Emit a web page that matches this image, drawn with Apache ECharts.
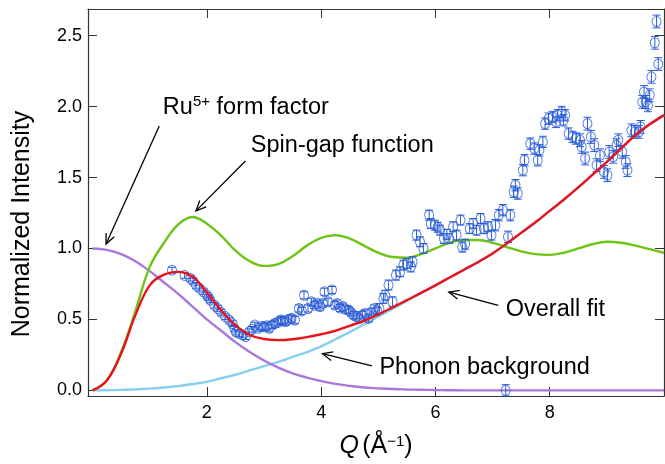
<!DOCTYPE html>
<html>
<head>
<meta charset="utf-8">
<script src="https://cdn.jsdelivr.net/npm/echarts@6/dist/echarts.min.js"></script>
<style>
  html, body { margin: 0; padding: 0; background: #fff; }
  #chart { width: 665px; height: 464px; }
</style>
</head>
<body>
<div id="chart"></div>
<script>
// measured points (Q in 1/Angstrom, normalized intensity)
var qData = [1.39, 1.61, 1.71, 1.76, 1.81, 1.87, 1.94, 2.00, 2.03, 2.06, 2.13, 2.19, 2.25, 2.32, 2.39, 2.45, 2.48, 2.51, 2.57, 2.63,
  2.68, 2.74, 2.79, 2.84, 2.90, 2.95, 3.00, 3.05, 3.09, 3.14, 3.19, 3.24, 3.29, 3.33, 3.38, 3.43, 3.48, 3.54, 3.61, 3.66,
  3.70, 3.77, 3.83, 3.88, 3.93, 3.98, 4.03, 4.06, 4.12, 4.19, 4.24, 4.28, 4.33, 4.38, 4.43, 4.48, 4.52, 4.57, 4.62, 4.67,
  4.72, 4.77, 4.83, 4.88, 4.93, 4.98, 5.02, 5.09, 5.12, 5.18, 5.25, 5.31, 5.38, 5.44, 5.50, 5.57, 5.60, 5.67, 5.73, 5.79,
  5.89, 5.92, 5.99, 6.04, 6.08, 6.15, 6.20, 6.24, 6.31, 6.37, 6.44, 6.47, 6.52, 6.60, 6.66, 6.72, 6.79, 6.85, 6.92, 6.98,
  7.05, 7.11, 7.18, 7.23, 7.27, 7.31, 7.37, 7.40, 7.44, 7.53, 7.56, 7.66, 7.73, 7.79, 7.82, 7.88, 7.92, 7.98, 8.05, 8.11,
  8.14, 8.21, 8.24, 8.27, 8.33, 8.40, 8.46, 8.53, 8.56, 8.62, 8.66, 8.72, 8.78, 8.82, 8.88, 8.95, 9.01, 9.04, 9.11, 9.17,
  9.20, 9.27, 9.33, 9.36, 9.43, 9.49, 9.56, 9.59, 9.62, 9.65, 9.68, 9.72, 9.75, 9.78, 9.84, 9.87, 9.90];
var iData = [0.847, 0.81, 0.79, 0.77, 0.74, 0.72, 0.695, 0.67, 0.655, 0.636, 0.60, 0.577, 0.55, 0.52, 0.495, 0.47, 0.437, 0.41, 0.40, 0.39,
  0.378, 0.413, 0.43, 0.46, 0.437, 0.45, 0.448, 0.455, 0.437, 0.46, 0.47, 0.48, 0.495, 0.49, 0.484, 0.50, 0.507, 0.495, 0.577, 0.56,
  0.67, 0.577, 0.624, 0.60, 0.612, 0.59, 0.612, 0.695, 0.624, 0.707, 0.60, 0.612, 0.58, 0.59, 0.57, 0.566, 0.55, 0.53, 0.52, 0.507,
  0.53, 0.542, 0.507, 0.55, 0.577, 0.56, 0.577, 0.648, 0.67, 0.742, 0.624, 0.812, 0.836, 0.883, 0.894, 0.87, 0.906, 1.094, 1.047, 1.00,
  1.235, 1.176, 1.164, 1.15, 1.129, 1.07, 1.10, 1.07, 1.153, 1.094, 1.20, 1.01, 1.03, 1.14, 1.176, 1.129, 1.211, 1.14, 1.153, 1.094,
  1.164, 1.235, 1.27, 0.0, 1.082, 1.235, 1.40, 1.446, 1.387, 1.552, 1.622, 1.739, 1.704, 1.622, 1.692, 1.751, 1.88, 1.915, 1.927, 1.892,
  1.939, 1.962, 1.904, 1.939, 1.81, 1.786, 1.775, 1.763, 1.716, 1.634, 1.88, 1.786, 1.728, 1.587, 1.657, 1.54, 1.516, 1.68, 1.646, 1.728,
  1.763, 1.681, 1.61, 1.552, 1.833, 1.822, 1.822, 1.857, 2.033, 2.103, 2.033, 2.009, 2.08, 2.21, 2.45, 2.60, 2.30];
// error bar half-heights by Q range: [from, to, err]
var errBands = [[0, 3, 0.02], [3, 5, 0.025], [5, 7, 0.035], [7, 8.5, 0.04], [8.5, 11, 0.045]];

// model curves, read every 0.25 in Q
var curveQ = [0, 0.25, 0.5, 0.75, 1, 1.25, 1.5, 1.75, 2, 2.25, 2.5, 2.75, 3, 3.25, 3.5, 3.75, 4, 4.25, 4.5, 4.75,
  5, 5.25, 5.5, 5.75, 6, 6.25, 6.5, 6.75, 7, 7.25, 7.5, 7.75, 8, 8.25, 8.5, 8.75, 9, 9.25, 9.5, 9.75, 10];
var fitCurve = [0, 0.07, 0.26, 0.53, 0.74, 0.815, 0.835, 0.80, 0.69, 0.565, 0.46, 0.39, 0.362, 0.354, 0.36, 0.375, 0.395, 0.42, 0.455, 0.49,
  0.535, 0.585, 0.636, 0.687, 0.74, 0.795, 0.85, 0.905, 0.965, 1.035, 1.11, 1.185, 1.265, 1.345, 1.43, 1.52, 1.61, 1.705, 1.80, 1.875, 1.94];
var spinGapCurve = [0, 0.07, 0.27, 0.56, 0.87, 1.04, 1.17, 1.222, 1.175, 1.09, 0.985, 0.91, 0.877, 0.89, 0.945, 1.02, 1.075, 1.093, 1.07, 1.02,
  0.97, 0.94, 0.935, 0.96, 1.0, 1.04, 1.06, 1.06, 1.04, 1.01, 0.98, 0.96, 0.955, 0.97, 1.0, 1.03, 1.047, 1.04, 1.02, 0.995, 0.97];
var formFactorCurve = [1, 0.99, 0.96, 0.91, 0.84, 0.76, 0.68, 0.59, 0.50, 0.42, 0.34, 0.27, 0.21, 0.16, 0.12, 0.09, 0.065, 0.045, 0.031, 0.02,
  0.014, 0.009, 0.006, 0.004, 0.002, 0.001, 0, 0, 0, 0, 0, 0, 0, 0, 0, 0, 0, 0, 0, 0, 0];
var phononCurve = [0, 0.001, 0.003, 0.007, 0.012, 0.02, 0.03, 0.045, 0.06, 0.085, 0.11, 0.14, 0.17, 0.2, 0.235, 0.27, 0.31, 0.36, 0.41, 0.465,
  0.52, 0.575, 0.63, 0.687, 0.74, 0.795, 0.85, 0.905, 0.965, 1.035, 1.11, 1.185, 1.265, 1.345, 1.43, 1.52, 1.61, 1.705, 1.80, 1.875, 1.94];

var xTicks = [2, 4, 6, 8];
var yTicks = [0, 0.5, 1, 1.5, 2, 2.5];

var FONT = 'Liberation Sans, Arial, Helvetica, sans-serif';
var BLUE = '#2a5cd6';

function errFor(q) {
  for (var i = 0; i < errBands.length; i++) {
    if (q >= errBands[i][0] && q < errBands[i][1]) return errBands[i][2];
  }
  return 0.03;
}
function pairs(xs, ys) {
  return xs.map(function (x, i) { return [x, ys[i]]; });
}

var points = qData.map(function (q, i) { return [q, iData[i], errFor(q)]; });

var chart = echarts.init(document.getElementById('chart'), null, { renderer: 'canvas' });

function curve(name, ys, color, z) {
  return {
    name: name, type: 'line', data: pairs(curveQ, ys), smooth: 0.4,
    showSymbol: false, symbol: 'none', z: z,
    lineStyle: { color: color, width: 2.4 }
  };
}

function frameAxis(pos, ticks, isX) {
  var ax = {
    type: 'value', position: pos,
    axisLine: { show: true, onZero: false, lineStyle: { color: '#333', width: 1.2 } },
    axisTick: { show: true, inside: true, length: 9, customValues: ticks, lineStyle: { color: '#333' } },
    axisLabel: { show: false },
    splitLine: { show: false }
  };
  if (isX) { ax.min = -0.08; ax.max = 10; } else { ax.min = -0.04; ax.max = 2.688; }
  return ax;
}

var xBottom = frameAxis('bottom', xTicks, true);
xBottom.axisLabel = { show: true, customValues: xTicks, fontSize: 18, color: '#000', fontFamily: FONT, margin: 8 };
xBottom.name = '{q|Q} {n|(Å}{s|−1}{n|)}';
xBottom.nameLocation = 'middle';
xBottom.nameGap = 38;
xBottom.nameTextStyle = {
  fontFamily: FONT, color: '#000',
  rich: {
    q: { fontSize: 25, fontStyle: 'italic', fontFamily: FONT, color: '#000' },
    n: { fontSize: 25, fontFamily: FONT, color: '#000' },
    s: { fontSize: 15, fontFamily: FONT, color: '#000', padding: [0, 0, 10, 0] }
  }
};

var yLeft = frameAxis('left', yTicks, false);
yLeft.axisLabel = {
  show: true, customValues: yTicks, fontSize: 18, color: '#000', fontFamily: FONT, margin: 6,
  formatter: function (v) { return v.toFixed(1); }
};

chart.setOption({
  animation: false,
  grid: { left: 88, right: 1, top: 9, bottom: 67 },
  xAxis: [xBottom, frameAxis('top', xTicks, true)],
  yAxis: [yLeft, frameAxis('right', yTicks, false)],
  series: [
    curve('Phonon background', phononCurve, '#86cff0', 2),
    curve('Ru5+ form factor', formFactorCurve, '#a977dc', 3),
    curve('Spin-gap function', spinGapCurve, '#6cc417', 4),
    {
      name: 'errors', type: 'custom', z: 5,
      data: points,
      renderItem: function (params, api) {
        var x = api.value(0), y = api.value(1), e = api.value(2);
        var top = api.coord([x, y + e]);
        var bot = api.coord([x, y - e]);
        var cap = 4;
        var st = { stroke: BLUE, lineWidth: 1 };
        return {
          type: 'group',
          children: [
            { type: 'line', shape: { x1: top[0], y1: top[1], x2: bot[0], y2: bot[1] }, style: st },
            { type: 'line', shape: { x1: top[0] - cap, y1: top[1], x2: top[0] + cap, y2: top[1] }, style: st },
            { type: 'line', shape: { x1: bot[0] - cap, y1: bot[1], x2: bot[0] + cap, y2: bot[1] }, style: st }
          ]
        };
      }
    },
    {
      name: 'data', type: 'scatter', z: 6,
      data: points.map(function (p) { return [p[0], p[1]]; }),
      symbol: 'circle', symbolSize: [9, 10],
      itemStyle: { color: 'rgba(0,0,0,0)', borderColor: BLUE, borderWidth: 1 }
    },
    curve('Overall fit', fitCurve, '#e8141c', 7)
  ]
});

// annotations in data coordinates
var labels = [
  { text: '{n|Ru}{s|5+}{n| form factor}', at: [1.23, 1.995] },
  { text: '{n|Spin-gap function}', at: [2.77, 1.725] },
  { text: '{n|Overall fit}', at: [7.23, 0.567] },
  { text: '{n|Phonon background}', at: [5.02, 0.16] }
];
var arrows = [
  { from: [1.167, 1.863], to: [0.236, 1.031] },
  { from: [2.675, 1.617], to: [1.809, 1.265] },
  { from: [7.10, 0.598], to: [6.236, 0.692] },
  { from: [4.889, 0.172], to: [4.023, 0.258] }
];

var gfx = [];
function px(p) { return chart.convertToPixel({ xAxisIndex: 0, yAxisIndex: 0 }, p); }
labels.forEach(function (l) {
  var p = px(l.at);
  gfx.push({
    type: 'text', x: p[0], y: p[1], z: 20,
    style: {
      text: l.text, textAlign: 'left', textVerticalAlign: 'middle', fill: '#000',
      rich: {
        n: { fontSize: 23.5, fontFamily: FONT, fill: '#000', color: '#000' },
        s: { fontSize: 15, fontFamily: FONT, fill: '#000', color: '#000', padding: [0, 0, 10, 0] }
      }
    }
  });
});
arrows.forEach(function (a) {
  var p1 = px(a.from), p2 = px(a.to);
  var ang = Math.atan2(p2[1] - p1[1], p2[0] - p1[0]);
  var len = 11, spread = 0.42;
  var h1 = [p2[0] - len * Math.cos(ang - spread), p2[1] - len * Math.sin(ang - spread)];
  var h2 = [p2[0] - len * Math.cos(ang + spread), p2[1] - len * Math.sin(ang + spread)];
  gfx.push({ type: 'line', z: 20, shape: { x1: p1[0], y1: p1[1], x2: p2[0], y2: p2[1] }, style: { stroke: '#000', lineWidth: 1.3 } });
  gfx.push({ type: 'polyline', z: 20, shape: { points: [h1, p2, h2] }, style: { stroke: '#000', lineWidth: 1.3, fill: null } });
});
gfx.push({
  type: 'text', x: 22, y: 224, rotation: Math.PI / 2, z: 20,
  style: { text: 'Normalized Intensity', font: '25px ' + FONT, fill: '#000', textAlign: 'center', textVerticalAlign: 'middle' }
});
chart.setOption({ graphic: gfx });
</script>
</body>
</html>
